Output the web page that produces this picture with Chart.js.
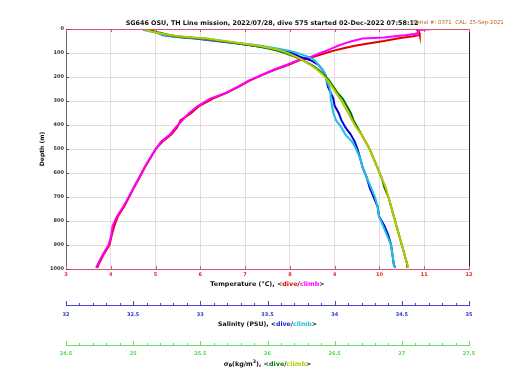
<!DOCTYPE html>
<html>
<head>
<meta charset="utf-8">
<script src="https://cdn.jsdelivr.net/npm/chart.js@4/dist/chart.umd.min.js"></script>
<style>
html,body{margin:0;padding:0;background:#fff;}
canvas{display:block;}
</style>
</head>
<body>
<canvas id="c" width="520" height="390"></canvas>
<script>
// ---- data (depth in m) ----
const depths = [0,4,8,12,16,20,25,30,35,40,50,60,70,80,90,100,115,130,150,170,190,215,240,265,290,320,350,380,410,440,470,500,540,580,620,660,700,740,780,820,860,900,940,980,995];

const tempDive  = [10.82,10.84,10.86,10.88,10.89,10.90,10.90,10.75,10.55,10.40,10.10,9.75,9.45,9.20,8.98,8.80,8.55,8.22,7.96,7.66,7.40,7.10,6.86,6.60,6.28,5.98,5.80,5.56,5.48,5.35,5.15,5.00,4.88,4.75,4.64,4.52,4.41,4.30,4.16,4.08,4.02,3.97,3.84,3.73,3.70];
const tempClimb = [11.19,10.90,10.88,10.87,10.86,10.80,10.62,10.35,10.10,9.62,9.40,9.22,9.08,8.95,8.82,8.68,8.48,8.18,7.92,7.64,7.38,7.08,6.84,6.58,6.22,5.95,5.75,5.60,5.45,5.32,5.12,5.01,4.87,4.74,4.63,4.51,4.40,4.28,4.14,4.04,4.01,3.95,3.82,3.71,3.67];

const salDive   = [32.58,32.60,32.64,32.66,32.68,32.70,32.72,32.78,32.87,32.96,33.12,33.28,33.40,33.52,33.60,33.68,33.74,33.82,33.88,33.91,33.93,33.94,33.95,33.97,33.99,34.00,34.03,34.05,34.08,34.12,34.15,34.17,34.19,34.21,34.24,34.26,34.29,34.32,34.33,34.37,34.40,34.42,34.43,34.44,34.45];
const salClimb  = [32.57,32.58,32.61,32.64,32.67,32.70,32.73,32.80,32.90,32.99,33.15,33.32,33.45,33.56,33.66,33.72,33.80,33.85,33.88,33.91,33.93,33.94,33.96,33.97,33.97,33.98,33.99,34.01,34.05,34.08,34.13,34.16,34.19,34.21,34.24,34.27,34.30,34.32,34.33,34.36,34.39,34.42,34.43,34.44,34.45];

const sigDive   = [25.10,25.12,25.14,25.17,25.20,25.23,25.27,25.32,25.42,25.52,25.66,25.78,25.90,26.00,26.07,26.13,26.20,26.26,26.33,26.38,26.42,26.46,26.49,26.52,26.56,26.59,26.62,26.64,26.67,26.70,26.73,26.76,26.79,26.82,26.85,26.87,26.90,26.92,26.94,26.96,26.98,27.00,27.02,27.04,27.04];
const sigClimb  = [25.08,25.10,25.12,25.15,25.18,25.22,25.27,25.34,25.45,25.55,25.68,25.81,25.93,26.03,26.10,26.15,26.21,26.26,26.32,26.37,26.41,26.45,26.48,26.51,26.54,26.57,26.60,26.63,26.66,26.70,26.73,26.76,26.79,26.82,26.85,26.88,26.90,26.92,26.94,26.96,26.98,27.00,27.02,27.04,27.05];

const titleText  = 'SG646 OSU, TH Line mission, 2022/07/28, dive 575 started 02-Dec-2022 07:58:12';
const serialText = 'Serial #: 0371  CAL: 25-Sep-2021';

const FONT = '"DejaVu Sans", sans-serif';
const pts = (vals) => vals.map((v, i) => ({x: v, y: depths[i]}));
const fmt = (v) => String(Math.round(v * 10) / 10);

function ds(label, vals, color, axis) {
  return {label, data: pts(vals), xAxisID: axis, yAxisID: 'y', showLine: true,
    borderColor: color, backgroundColor: color, borderWidth: 2, pointRadius: 0,
    tension: 0, fill: false};
}

function drawParts(ctx, parts, cx, cy, size) {
  ctx.save();
  ctx.textBaseline = 'middle';
  let total = 0;
  parts.forEach(p => {
    const s = p.sub || p.sup ? size * 0.75 : size;
    ctx.font = 'bold ' + s + 'px ' + FONT;
    p.w = ctx.measureText(p.t).width; total += p.w;
  });
  let x = cx - total / 2;
  parts.forEach(p => {
    const s = p.sub || p.sup ? size * 0.75 : size;
    ctx.font = 'bold ' + s + 'px ' + FONT;
    ctx.fillStyle = p.c || '#111';
    ctx.textAlign = 'left';
    const dy = p.sub ? size * 0.35 : (p.sup ? -size * 0.4 : 0);
    ctx.fillText(p.t, x, cy + dy);
    x += p.w;
  });
  ctx.restore();
}

function minorTicks(ctx, scale, min, max, step, majorEvery, color) {
  ctx.save();
  ctx.strokeStyle = color; ctx.lineWidth = 1;
  const n = Math.round((max - min) / step);
  for (let i = 0; i <= n; i++) {
    const v = min + i * step;
    const x = Math.round(scale.getPixelForValue(v)) + 0.5;
    const len = (i % majorEvery === 0) ? 4 : 2;
    ctx.beginPath(); ctx.moveTo(x, scale.top); ctx.lineTo(x, scale.top - len); ctx.stroke();
  }
  ctx.restore();
}

const decor = {
  id: 'decor',
  afterDraw(chart) {
    const ctx = chart.ctx, a = chart.chartArea, s = chart.scales;
    ctx.save();
    ctx.lineWidth = 1;
    ctx.strokeStyle = '#e0506a';
    ctx.beginPath(); ctx.moveTo(a.left, a.top + 0.5); ctx.lineTo(a.right, a.top + 0.5); ctx.stroke();
    ctx.strokeStyle = '#222';
    ctx.beginPath(); ctx.moveTo(a.right + 0.5, a.top); ctx.lineTo(a.right + 0.5, a.bottom); ctx.stroke();
    ctx.strokeStyle = '#e0506a';
    for (let t = 3; t <= 12; t++) {
      const x = Math.round(s.xT.getPixelForValue(t)) + 0.5;
      ctx.beginPath(); ctx.moveTo(x, a.top); ctx.lineTo(x, a.top + 3); ctx.stroke();
      ctx.beginPath(); ctx.moveTo(x, a.bottom); ctx.lineTo(x, a.bottom - 3); ctx.stroke();
    }
    ctx.strokeStyle = '#555';
    for (let d = 0; d <= 1000; d += 100) {
      const y = Math.round(s.y.getPixelForValue(d)) + 0.5;
      ctx.beginPath(); ctx.moveTo(a.left, y); ctx.lineTo(a.left + 3, y); ctx.stroke();
    }
    ctx.restore();

    minorTicks(ctx, s.xS, 32, 35, 0.1, 5, '#4848d8');
    minorTicks(ctx, s.xD, 24.5, 27.5, 0.1, 5, '#66e066');

    const cx = (a.left + a.right) / 2;
    ctx.save();
    ctx.textBaseline = 'middle';
    ctx.font = 'bold 6.4px ' + FONT;
    ctx.fillStyle = '#111';
    ctx.textAlign = 'center';
    ctx.fillText(titleText, 272, 23);
    ctx.font = '5.4px ' + FONT;
    ctx.fillStyle = '#c0601e';
    ctx.textAlign = 'left';
    ctx.fillText(serialText, 413, 23);
    ctx.translate(42, (a.top + a.bottom) / 2);
    ctx.rotate(-Math.PI / 2);
    ctx.font = 'bold 6px ' + FONT;
    ctx.fillStyle = '#111';
    ctx.textAlign = 'center';
    ctx.fillText('Depth (m)', 0, 0);
    ctx.restore();

    drawParts(ctx, [{t:'Temperature (°C), <'}, {t:'dive', c:'#e00000'}, {t:'/'}, {t:'climb', c:'#ff00ff'}, {t:'>'}], cx, 284, 6.4);
    drawParts(ctx, [{t:'Salinity (PSU), <'}, {t:'dive', c:'#2020e0'}, {t:'/'}, {t:'climb', c:'#20c0e0'}, {t:'>'}], cx, 324, 6.2);
    drawParts(ctx, [{t:'σ'}, {t:'θ', sub:true}, {t:'(kg/m'}, {t:'3', sup:true}, {t:'), <'}, {t:'dive', c:'#008000'}, {t:'/'}, {t:'climb', c:'#b8c800'}, {t:'>'}], cx, 364, 6.4);
  }
};

const tickFont = {family: FONT, size: 5, weight: 'bold'};

new Chart(document.getElementById('c'), {
  type: 'scatter',
  data: {
    datasets: [
      ds('σθ climb', sigClimb, '#b8c800', 'xD'),
      ds('σθ dive', sigDive, '#007800', 'xD'),
      ds('Salinity climb', salClimb, '#20c0e0', 'xS'),
      ds('Salinity dive', salDive, '#0000dc', 'xS'),
      ds('Temperature climb', tempClimb, '#ff00ff', 'xT'),
      ds('Temperature dive', tempDive, '#e00000', 'xT')
    ]
  },
  options: {
    responsive: false,
    animation: false,
    layout: {padding: {top: 29, right: 51, left: 0, bottom: 15}},
    plugins: {legend: {display: false}, tooltip: {enabled: false}, title: {display: false}},
    scales: {
      y: {
        type: 'linear', position: 'left', reverse: true, min: 0, max: 1000,
        afterFit(sc) { sc.width = 66; },
        ticks: {stepSize: 100, autoSkip: false, padding: 2, color: '#333', font: tickFont, callback: fmt},
        grid: {color: '#e2dcdc', drawTicks: false},
        border: {color: '#666'}
      },
      xT: {
        type: 'linear', position: 'bottom', min: 3, max: 12, weight: 0,
        afterFit(sc) { sc.height = 36; },
        ticks: {stepSize: 1, autoSkip: false, padding: 3, color: '#e02828', font: tickFont, maxRotation: 0, callback: fmt},
        grid: {color: '#e6dcdf', drawTicks: false},
        border: {color: '#e0506a'}
      },
      xS: {
        type: 'linear', position: 'bottom', min: 32, max: 35, weight: 1,
        afterFit(sc) { sc.height = 40; },
        ticks: {stepSize: 0.5, autoSkip: false, padding: 7, color: '#3030d0', font: tickFont, maxRotation: 0, callback: fmt},
        grid: {drawOnChartArea: false, drawTicks: false},
        border: {color: '#4848d8'}
      },
      xD: {
        type: 'linear', position: 'bottom', min: 24.5, max: 27.5, weight: 2,
        afterFit(sc) { sc.height = 30; },
        ticks: {stepSize: 0.5, autoSkip: false, padding: 6, color: '#50d850', font: tickFont, maxRotation: 0, callback: fmt},
        grid: {drawOnChartArea: false, drawTicks: false},
        border: {color: '#66e066'}
      }
    }
  },
  plugins: [decor]
});
</script>
</body>
</html>
